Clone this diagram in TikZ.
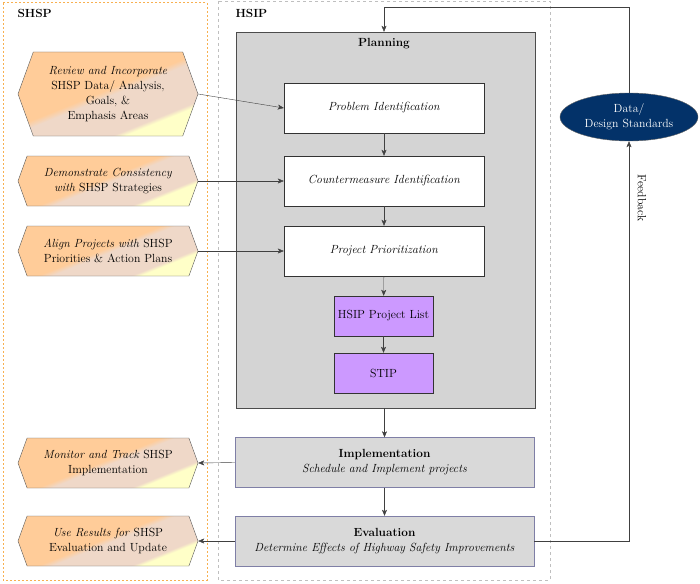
\documentclass[tikz,border=0pt]{standalone}
\usepackage{tikz}
\usetikzlibrary{arrows.meta, shapes.geometric, shapes.symbols}
\definecolor{hexorange}{HTML}{FFCC99}
\definecolor{hexbeige}{HTML}{EFD8C8}
\definecolor{hexyellow}{HTML}{FFFFC8}
\definecolor{planfill}{HTML}{D4D4D4}
\definecolor{stepfill}{HTML}{D9D9D9}
\definecolor{stepline}{HTML}{7F7FA6}
\definecolor{listfill}{HTML}{CC99FF}
\definecolor{datanavy}{HTML}{033269}
\definecolor{shspline}{HTML}{F8B050}
\pgfdeclareverticalshading{hexshade}{100bp}{color(0bp)=(hexyellow); color(30bp)=(hexyellow); color(32bp)=(hexbeige); color(49bp)=(hexbeige); color(52bp)=(hexorange); color(100bp)=(hexorange)}

\begin{document}
\begin{tikzpicture}[x=1pt, y=-1pt, font=\fontsize{11.8}{15}\selectfont,
    hex/.style={signal, signal to=west and east, signal pointer angle=140, draw=black!65, shading=hexshade, shading angle=22, minimum width=180, minimum height=50, align=center, inner sep=1},
    box/.style={draw=black!80, fill=white, minimum width=200, minimum height=50, align=center},
    listbox/.style={draw=black!80, fill=listfill, minimum width=99, minimum height=40, align=center},
    stepbox/.style={draw=stepline, fill=stepfill, minimum width=299, minimum height=50, align=center, inner sep=1},
    arr/.style={draw=black!75, -{Stealth[length=6pt, width=5pt, inset=1.5pt]}}]
    \useasboundingbox (0,0) rectangle (700,583);

    % frames
    \draw[shspline, line width=1pt, dash pattern=on 2pt off 2pt] (3,3) rectangle (207,580);
    \draw[black!25, dashed] (218,1) rectangle (550,580);
    \node[anchor=west, font=\fontsize{11.8}{13}\selectfont\bfseries] (shsp) at (14,13) {SHSP};
    \node[anchor=west, font=\fontsize{11.8}{13}\selectfont\bfseries] (hsip) at (232,13) {HSIP};

    % planning
    \node[draw=black!70, fill=planfill, minimum width=299, minimum height=376] (plan) at (385.5,220) {};
    \node[font=\fontsize{11.8}{13}\selectfont\bfseries] (plantitle) at (384,44) {Planning};
    \node[box] (prob) at (384,108) {\textit{Problem Identification}};
    \node[box] (cm)   at (384,181) {\textit{Countermeasure Identification}};
    \node[box] (prio) at (384,251) {\textit{Project Prioritization}};
    \node[listbox] (list) at (383.5,316) {HSIP Project List};
    \node[listbox] (stip) at (383.5,373) {STIP};

    \node[stepbox] (impl) at (384.5,462.5) {\textbf{Implementation}\\\textit{Schedule and Implement projects}};
    \node[stepbox] (eval) at (384.5,541) {\textbf{Evaluation}\\\textit{Determine Effects of Highway Safety Improvements}};

    % SHSP side
    \node[hex, minimum height=84] (hex1) at (108,94) {\textit{Review and Incorporate}\\SHSP Data/ Analysis,\\Goals, \&\\Emphasis Areas};
    \node[hex] (hex2) at (108,181) {\textit{Demonstrate Consistency}\\\textit{with} SHSP Strategies};
    \node[hex] (hex3) at (108,251) {\textit{Align Projects with} SHSP\\Priorities \& Action Plans};
    \node[hex] (hex4) at (108,463) {\textit{Monitor and Track} SHSP\\Implementation};
    \node[hex] (hex5) at (108,541) {\textit{Use Results for} SHSP\\Evaluation and Update};

    % data
    \node[ellipse, draw=black!60, fill=datanavy, text=white, minimum width=138, minimum height=48, inner sep=0, align=center] (data) at (629,117) {Data/\\Design Standards};
    \node[rotate=-90] (fb) at (642,198) {Feedback};
    \coordinate (top) at (384,7);

    \draw[arr] (hex1.east) -- (prob.west);
    \draw[arr] (hex2.east) -- (cm.west);
    \draw[arr] (hex3.east) -- (prio.west);
    \draw[arr] (prob) -- (cm);
    \draw[arr] (cm) -- (prio);
    \draw[arr] (prio) -- (list);
    \draw[arr] (list) -- (stip);
    \draw[arr] (plan.south -| impl.north) -- (impl);
    \draw[arr] (impl) -- (eval);
    \draw[arr] (impl.west) -- (hex4.east);
    \draw[arr] (eval.west) -- (hex5.east);
    \draw[arr] (eval.east) -| (data.south);
    \draw[arr] (data.north) |- (top) -- (top |- plan.north);
\end{tikzpicture}
\end{document}
